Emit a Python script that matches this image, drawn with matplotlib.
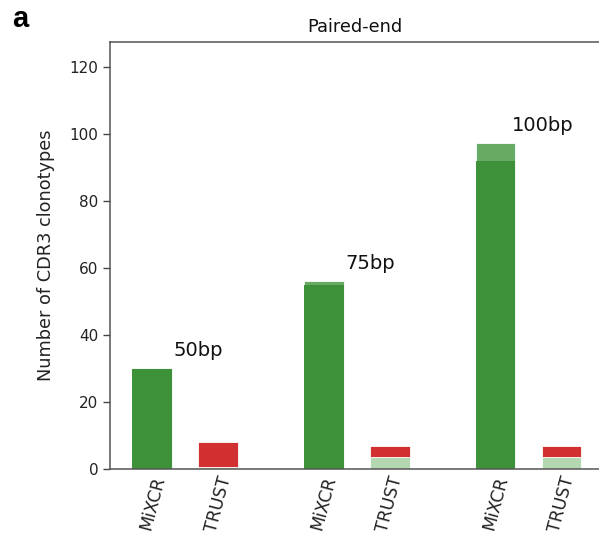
import numpy as np
import matplotlib
matplotlib.use("Agg")
import matplotlib.pyplot as plt

# Read lengths and tools
read_lengths = ["50bp", "75bp", "100bp"]
tools = ["MiXCR", "TRUST"]

# MiXCR clonotype counts: total and the shared (darker) portion
mixcr_total = [30.2, 56.0, 97.2]
mixcr_shared = [30.0, 55.0, 92.0]

# TRUST clonotype counts: total and the correct (light green) portion
trust_total = [8.0, 6.9, 6.9]
trust_correct = [0.6, 3.7, 3.7]

dark_green = "#3c9139"
light_top_green = "#67aa64"
pale_green = "#b3d7b0"
red = "#d22f30"

group_gap = 2.6
width = 0.6
mixcr_x = np.arange(len(read_lengths)) * group_gap
trust_x = mixcr_x + 1.0

fig = plt.figure(figsize=(5.99, 5.36), dpi=100)
ax = fig.add_axes([0.1836, 0.125, 0.8164, 0.7966])

edge = dict(edgecolor="#ffffff", linewidth=0.6)

# MiXCR bars
ax.bar(mixcr_x, mixcr_total, width=width, color=light_top_green, **edge)
ax.bar(mixcr_x, mixcr_shared, width=width, color=dark_green, linewidth=0)

# TRUST stacked bars
trust_rest = [t - c for t, c in zip(trust_total, trust_correct)]
ax.bar(trust_x, trust_correct, width=width, color=pale_green, **edge)
ax.bar(trust_x, trust_rest, width=width, bottom=trust_correct, color=red, **edge)

# Read length annotations
label_dx = [0.32, 0.33, 0.25]
for x, dx, top, lab in zip(mixcr_x, label_dx, mixcr_total, read_lengths):
    ax.text(x + dx, top + 3.6, lab, fontsize=14, ha="left", va="baseline", color="#111111")

ticks_x = np.ravel(np.column_stack([mixcr_x, trust_x]))
ax.set_xticks(ticks_x)
ax.set_xticklabels(tools * len(read_lengths), rotation=75, fontsize=12.5, color="#222222")
ax.tick_params(axis="x", length=0, pad=4)

ax.set_xlim(-0.64, 6.77)
ax.set_ylim(0, 127.5)
ax.set_yticks([0, 20, 40, 60, 80, 100, 120])
ax.tick_params(axis="y", labelsize=11, length=5, width=1, colors="#444444", labelcolor="#222222")

ax.set_ylabel("Number of CDR3 clonotypes", fontsize=12.8, color="#222222", labelpad=10)
ax.set_title("Paired-end", fontsize=12.8, color="#111111", pad=7)

for side in ["left", "bottom", "top"]:
    ax.spines[side].set_color("#555555")
    ax.spines[side].set_linewidth(1.1)
ax.spines["right"].set_visible(False)

fig.text(0.02, 0.99, "a", fontsize=21, fontweight="bold", family="Liberation Sans",
         ha="left", va="top")

fig.savefig("out.png", dpi=100)
